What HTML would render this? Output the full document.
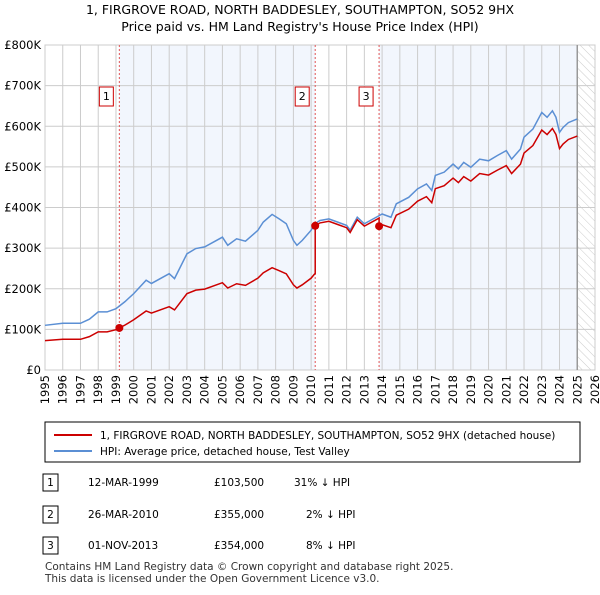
<!DOCTYPE html>
<html><head><meta charset="utf-8"><style>
body{margin:0;background:#fff;font-family:"Liberation Sans","DejaVu Sans",sans-serif;}
svg text{font-family:"DejaVu Sans","Liberation Sans",sans-serif;}
</style></head><body>
<svg id="c" width="600" height="590" xmlns="http://www.w3.org/2000/svg">
<defs><pattern id="hatch" width="6" height="6" patternUnits="userSpaceOnUse" patternTransform="rotate(-45)"><line x1="0" y1="0" x2="0" y2="6" stroke="#ccc" stroke-width="1"/></pattern></defs>
<text x="300" y="14" text-anchor="middle" font-size="12.5" fill="#000">1, FIRGROVE ROAD, NORTH BADDESLEY, SOUTHAMPTON, SO52 9HX</text>
<text x="300" y="31" text-anchor="middle" font-size="12.5" fill="#000">Price paid vs. HM Land Registry's House Price Index (HPI)</text>
<g id="plot"></g>
<g>
<rect x="45" y="422" width="535" height="40" fill="#fff" stroke="#000" stroke-width="1"/>
<line x1="54" y1="435" x2="92" y2="435" stroke="#cc0000" stroke-width="2"/>
<text x="100" y="439" font-size="10.5">1, FIRGROVE ROAD, NORTH BADDESLEY, SOUTHAMPTON, SO52 9HX (detached house)</text>
<line x1="54" y1="451" x2="92" y2="451" stroke="#5b8fd4" stroke-width="2"/>
<text x="100" y="455" font-size="10.5">HPI: Average price, detached house, Test Valley</text>
</g>
<g font-size="10.5">
<rect x="43" y="474" width="15" height="17" fill="#fff" stroke="#000"/><text x="50.5" y="486" text-anchor="middle">1</text>
<text x="88" y="486">12-MAR-1999</text><text x="214" y="486">£103,500</text><text x="294" y="486">31% ↓ HPI</text>
<rect x="43" y="506" width="15" height="17" fill="#fff" stroke="#000"/><text x="50.5" y="518" text-anchor="middle">2</text>
<text x="88" y="518">26-MAR-2010</text><text x="214" y="518">£355,000</text><text x="306" y="518">2% ↓ HPI</text>
<rect x="43" y="537" width="15" height="17" fill="#fff" stroke="#000"/><text x="50.5" y="549" text-anchor="middle">3</text>
<text x="88" y="549">01-NOV-2013</text><text x="214" y="549">£354,000</text><text x="306" y="549">8% ↓ HPI</text>
</g>
<text x="45" y="570" font-size="10.5" fill="#333">Contains HM Land Registry data © Crown copyright and database right 2025.</text>
<text x="45" y="582" font-size="10.5" fill="#333">This data is licensed under the Open Government Licence v3.0.</text>
</svg>
<script>
const hpiYears=[1995,1996,1997,1997.5,1998,1998.5,1999,1999.5,2000,2000.7,2001,2002,2002.3,2003,2003.5,2004,2005,2005.3,2005.8,2006.3,2007,2007.3,2007.8,2008.2,2008.6,2009,2009.2,2009.5,2010,2010.2,2010.5,2011,2011.5,2012,2012.2,2012.6,2013,2013.5,2014,2014.5,2014.8,2015.5,2016,2016.5,2016.8,2017,2017.5,2018,2018.3,2018.6,2019,2019.5,2020,2020.5,2021,2021.3,2021.8,2022,2022.5,2023,2023.3,2023.6,2023.8,2024,2024.2,2024.5,2025];
const hpiValues=[110,115,115,125,143,143,151,168,188,221,213,237,225,286,299,303,327,307,323,317,344,364,383,372,360,319,307,319,344,360,368,372,364,356,344,376,360,372,384,376,409,425,446,458,442,479,487,507,495,511,499,519,515,528,540,519,544,573,593,634,622,638,622,585,597,609,618];
const saleDates=[1999.19,2010.23,2013.83];
const salePrices=[103.5,355,354];
const saleLabels=["1","2","3"];
const yTicks=[0,100,200,300,400,500,600,700,800];
const yTickLabels=["£0","£100K","£200K","£300K","£400K","£500K","£600K","£700K","£800K"];
const xTicks=[1995,1996,1997,1998,1999,2000,2001,2002,2003,2004,2005,2006,2007,2008,2009,2010,2011,2012,2013,2014,2015,2016,2017,2018,2019,2020,2021,2022,2023,2024,2025,2026];

const NS="http://www.w3.org/2000/svg";
const L=45,R=595,T=45,B=370;
const X=y=>L+(y-1995)/(2026-1995)*(R-L);
const Y=v=>B-v/800*(B-T);
const g=document.getElementById('plot');
function mk(tag,attrs,parent){const e=document.createElementNS(NS,tag);for(const k in attrs)e.setAttribute(k,attrs[k]);(parent||g).appendChild(e);return e;}
function hpiAt(t){for(let i=0;i<hpiYears.length-1;i++){if(t>=hpiYears[i]&&t<=hpiYears[i+1]){const f=(t-hpiYears[i])/(hpiYears[i+1]-hpiYears[i]);return hpiValues[i]+f*(hpiValues[i+1]-hpiValues[i]);}}return hpiValues[hpiValues.length-1];}

let bg=mk('rect',{x:L,y:T,width:R-L,height:B-T,fill:'#fff'});


let s1=mk('rect',{x:X(saleDates[0]),y:T,width:X(saleDates[1])-X(saleDates[0]),height:B-T,fill:'#eef3fc',opacity:0.75});


let s2=mk('rect',{x:X(saleDates[2]),y:T,width:X(2025)-X(saleDates[2]),height:B-T,fill:'#eef3fc',opacity:0.75});


let h=mk('rect',{x:X(2025),y:T,width:R-X(2025),height:B-T,fill:'url(#hatch)'});


yTicks.forEach((v,i)=>{
 let ln=mk('line',{x1:L,x2:R,y1:Y(v),y2:Y(v),stroke:'#ccc','stroke-width':1});
 
 
 let t=mk('text',{x:L-4,y:Y(v)+4,'text-anchor':'end','font-size':'11.5'});
 t.textContent=yTickLabels[i];
 
 
});
xTicks.forEach(yr=>{
 let ln=mk('line',{x1:X(yr),x2:X(yr),y1:T,y2:B,stroke:'#ccc','stroke-width':1});
 
 
 let t=mk('text',{x:X(yr)+4,y:B+5,'text-anchor':'end','font-size':'11.5',transform:`rotate(-90 ${X(yr)+4} ${B+5})`});
 t.textContent=yr;
 
 
});
let bd=mk('rect',{x:L,y:T,width:R-L,height:B-T,fill:'none',stroke:'#ccc'});


let ed=mk('line',{x1:X(2025),x2:X(2025),y1:T,y2:B,stroke:'#999','stroke-width':1.5});


saleDates.forEach((d,i)=>{
 let ln=mk('line',{x1:X(d),x2:X(d),y1:T,y2:B,stroke:'#e05555','stroke-width':1,'stroke-dasharray':'2,2'});
 
 
 let bx=mk('rect',{x:X(d)-20,y:87,width:14,height:19,fill:'#fff',stroke:'#cc0000'});
 
 
 let t=mk('text',{x:X(d)-13,y:100,'text-anchor':'middle','font-size':'11'});
 t.textContent=saleLabels[i];
 
 
});
// HPI line
let hp=mk('polyline',{points:hpiYears.map((y,i)=>X(y)+','+Y(hpiValues[i])).join(' '),fill:'none',stroke:'#5b8fd4','stroke-width':1.5});


// price-paid line derived from HPI and sales
const pts=[];
function ratioAt(t){let k=0;for(let i=0;i<saleDates.length;i++)if(t>=saleDates[i])k=i;return salePrices[k]/hpiAt(saleDates[k]);}
const times=hpiYears.concat(saleDates).sort((a,b)=>a-b);
times.forEach(t=>{
 const idx=saleDates.indexOf(t);
 if(idx>0){const r0=salePrices[idx-1]/hpiAt(saleDates[idx-1]);pts.push(X(t)+','+Y(hpiAt(t)*r0));}
 pts.push(X(t)+','+Y(hpiAt(t)*ratioAt(t)));
});
let pl=mk('polyline',{points:pts.join(' '),fill:'none',stroke:'#cc0000','stroke-width':1.5});


saleDates.forEach((d,i)=>{
 let c=mk('circle',{cx:X(d),cy:Y(salePrices[i]),r:4,fill:'#cc0000'});
 
 
});
</script>
</body></html>
